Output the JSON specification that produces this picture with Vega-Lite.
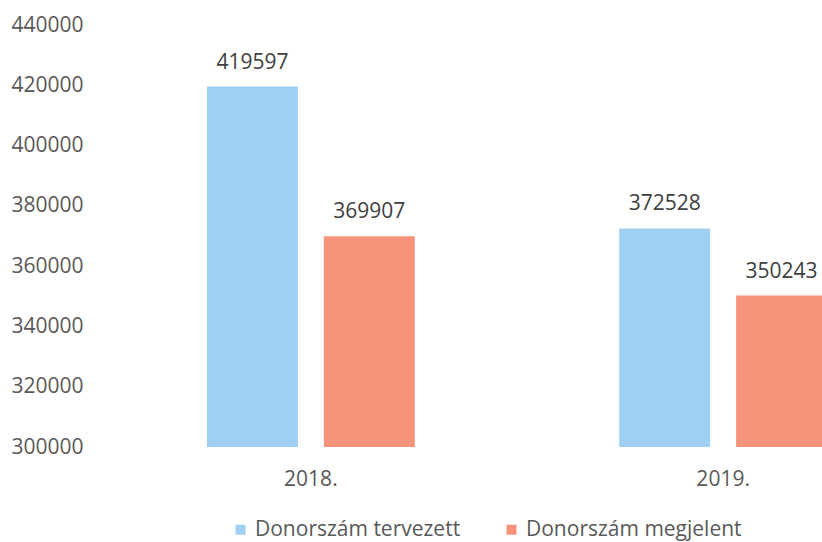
{
  "$schema": "https://vega.github.io/schema/vega-lite/v6.json",
  "width": 844,
  "height": 422,
  "autosize": {"type": "none"},
  "padding": {"left": 95, "top": 25, "right": 0, "bottom": 95},
  "background": "white",
  "config": {"view": {"stroke": null}, "font": "Open Sans"},
  "data": {
    "values": [
      {"year": "2018.", "series": "Donorszám tervezett", "value": 419597},
      {"year": "2018.", "series": "Donorszám megjelent", "value": 369907},
      {"year": "2019.", "series": "Donorszám tervezett", "value": 372528},
      {"year": "2019.", "series": "Donorszám megjelent", "value": 350243}
    ]
  },
  "encoding": {
    "x": {
      "field": "year",
      "type": "nominal",
      "sort": null,
      "scale": {"paddingInner": 0.4958, "paddingOuter": 0.2715},
      "axis": {"title": null, "labelAngle": 0, "domain": false, "ticks": false, "labelFontSize": 21, "labelColor": "#595959", "labelPadding": 21}
    },
    "xOffset": {
      "field": "series",
      "type": "nominal",
      "sort": ["Donorszám tervezett", "Donorszám megjelent"],
      "scale": {"paddingInner": 0.222, "paddingOuter": 0}
    },
    "y": {
      "field": "value",
      "type": "quantitative",
      "scale": {"domain": [300000, 440000], "zero": false},
      "axis": {
        "title": null,
        "values": [300000, 320000, 340000, 360000, 380000, 400000, 420000, 440000],
        "format": "d",
        "domain": false,
        "ticks": false,
        "grid": false,
        "labelPadding": 12,
        "labelFontSize": 21,
        "labelColor": "#595959"
      }
    }
  },
  "layer": [
    {
      "mark": {"type": "bar", "clip": true},
      "encoding": {
        "color": {
          "field": "series",
          "type": "nominal",
          "scale": {"domain": ["Donorszám tervezett", "Donorszám megjelent"], "range": ["#a0cff4", "#f7937a"]},
          "legend": {
            "title": null,
            "orient": "none",
            "legendX": 135,
            "legendY": 494,
            "direction": "horizontal",
            "symbolType": "square",
            "symbolSize": 100,
            "symbolStrokeWidth": 0,
            "labelFontSize": 21,
            "labelColor": "#595959",
            "labelLimit": 0,
            "columnPadding": 40,
            "labelOffset": 4
          }
        }
      }
    },
    {
      "mark": {"type": "text", "baseline": "alphabetic", "dy": -18, "fontSize": 21, "color": "#404040"},
      "encoding": {"text": {"field": "value", "type": "quantitative", "format": "d"}}
    }
  ]
}
